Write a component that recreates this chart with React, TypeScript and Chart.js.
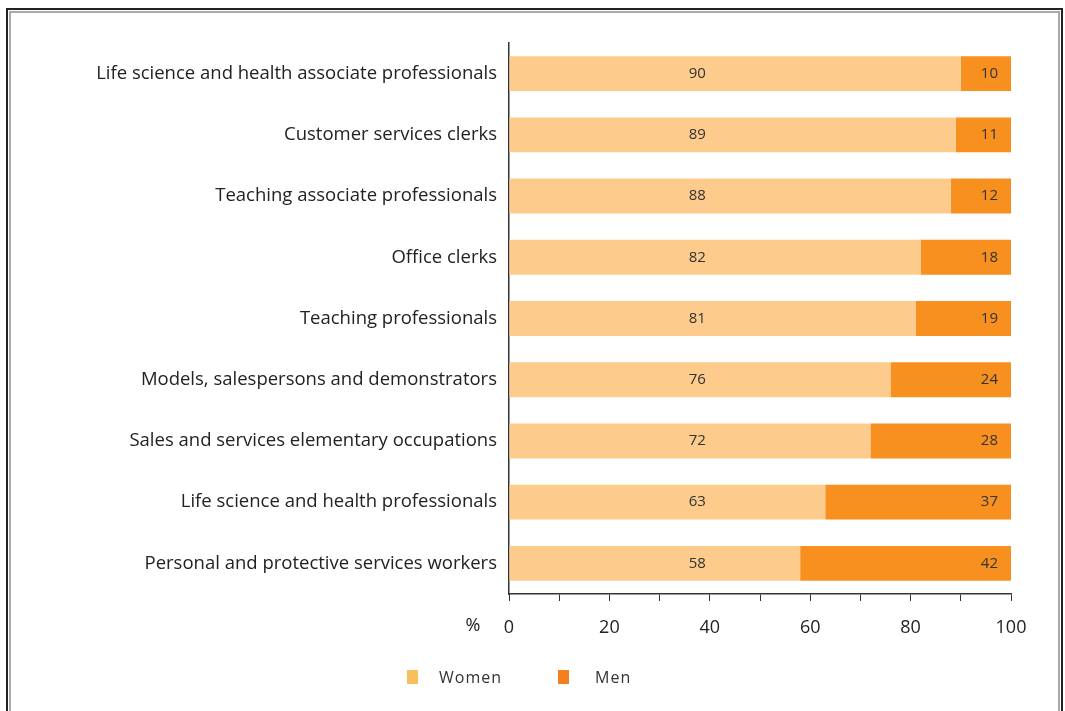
import React, { useEffect, useRef } from "react";
import { Chart, registerables } from "chart.js";

Chart.register(...registerables);

const categories = [
  "Life science and health associate professionals",
  "Customer services clerks",
  "Teaching associate professionals",
  "Office clerks",
  "Teaching professionals",
  "Models, salespersons and demonstrators",
  "Sales and services elementary occupations",
  "Life science and health professionals",
  "Personal and protective services workers",
];
const women = [90, 89, 88, 82, 81, 76, 72, 63, 58];
const men = [10, 11, 12, 18, 19, 24, 28, 37, 42];
const xTicks = [0, 20, 40, 60, 80, 100];

const WOMEN_COLOR = "#FDCB8B";
const MEN_COLOR = "#F7901E";
const FONT = "'Open Sans', sans-serif";
const WOMEN_LABEL_AT = 37.5;

const labelPlugin = {
  id: "barLabels",
  afterDatasetsDraw(chart: any) {
    const ctx = chart.ctx;
    const xs = chart.scales.x;
    const m0 = chart.getDatasetMeta(0);
    const m1 = chart.getDatasetMeta(1);
    ctx.save();
    ctx.font = `15px ${FONT}`;
    ctx.fillStyle = "#333";
    ctx.textBaseline = "middle";
    m0.data.forEach((bar: any, i: number) => {
      ctx.textAlign = "center";
      ctx.fillText(String(women[i]), xs.getPixelForValue(WOMEN_LABEL_AT), bar.y);
      const mb = m1.data[i];
      ctx.textAlign = "right";
      ctx.fillText(String(men[i]), mb.x - 13, mb.y);
    });
    // "%" label before axis zero
    ctx.font = `18px ${FONT}`;
    ctx.fillStyle = "#222";
    ctx.textAlign = "center";
    ctx.textBaseline = "top";
    ctx.fillText("%", xs.getPixelForValue(0) - 36, xs.top + 7 + 16);
    ctx.restore();
  },
};

export default function App() {
  const ref = useRef<HTMLCanvasElement>(null);
  useEffect(() => {
    if (!ref.current) return;
    const chart = new Chart(ref.current, {
      type: "bar",
      data: {
        labels: categories,
        datasets: [
          { label: "Women", data: women, backgroundColor: WOMEN_COLOR, borderWidth: 0 },
          { label: "Men", data: men, backgroundColor: MEN_COLOR, borderWidth: 0 },
        ],
      },
      options: {
        indexAxis: "y",
        responsive: false,
        animation: false,
        devicePixelRatio: 1,
        layout: { padding: { left: 0, right: 54, top: 43, bottom: 57 } },
        datasets: { bar: { categoryPercentage: 1, barPercentage: 0.57 } },
        plugins: { legend: { display: false }, tooltip: { enabled: false } },
        scales: {
          x: {
            stacked: true,
            min: 0,
            max: 100,
            ticks: {
              stepSize: 10,
              autoSkip: false,
              maxRotation: 0,
              padding: 16,
              color: "#222",
              font: { family: FONT, size: 18 },
              callback: (v: any) => (xTicks.includes(Number(v)) ? String(v) : ""),
            },
            grid: { drawOnChartArea: false, drawTicks: true, tickLength: 7, color: "#333", lineWidth: 1 },
            border: { display: true, color: "#333", width: 1.5 },
            afterFit: (s: any) => {
              s.height = 60;
            },
          },
          y: {
            stacked: true,
            ticks: { padding: 12, color: "#222", font: { family: FONT, size: 18.5 } },
            grid: { display: false, drawTicks: false },
            border: { display: true, color: "#333", width: 1.5 },
            afterFit: (s: any) => {
              s.width = 509;
            },
          },
        },
      },
      plugins: [labelPlugin],
    });
    return () => chart.destroy();
  }, []);

  return (
    <div style={{ position: "absolute", left: 0, top: 0, width: 1065, height: 711, background: "#fff", overflow: "hidden" }}>
      <div
        style={{
          position: "absolute",
          left: 6,
          top: 8,
          width: 1057,
          height: 720,
          borderTop: "2px solid #222",
          borderLeft: "2px solid #222",
          borderRight: "2px solid #222",
          boxSizing: "border-box",
        }}
      >
        <div
          style={{
            position: "absolute",
            left: 1,
            top: 1,
            right: 1,
            bottom: 0,
            borderTop: "2px solid #aaa",
            borderLeft: "2px solid #aaa",
            borderRight: "2px solid #aaa",
          }}
        />
      </div>
      <canvas ref={ref} width={1065} height={711} style={{ position: "absolute", left: 0, top: 0 }} />
      <div style={{ position: "absolute", left: 407, top: 670, width: 11, height: 14, background: "#F8C05A" }} />
      <div
        style={{
          position: "absolute",
          left: 439,
          top: 666,
          fontFamily: FONT,
          fontSize: 16,
          letterSpacing: 1,
          color: "#333",
          lineHeight: "22px",
        }}
      >
        Women
      </div>
      <div style={{ position: "absolute", left: 558, top: 670, width: 11, height: 14, background: "#F47F20" }} />
      <div
        style={{
          position: "absolute",
          left: 595,
          top: 666,
          fontFamily: FONT,
          fontSize: 16,
          letterSpacing: 1,
          color: "#333",
          lineHeight: "22px",
        }}
      >
        Men
      </div>
    </div>
  );
}
